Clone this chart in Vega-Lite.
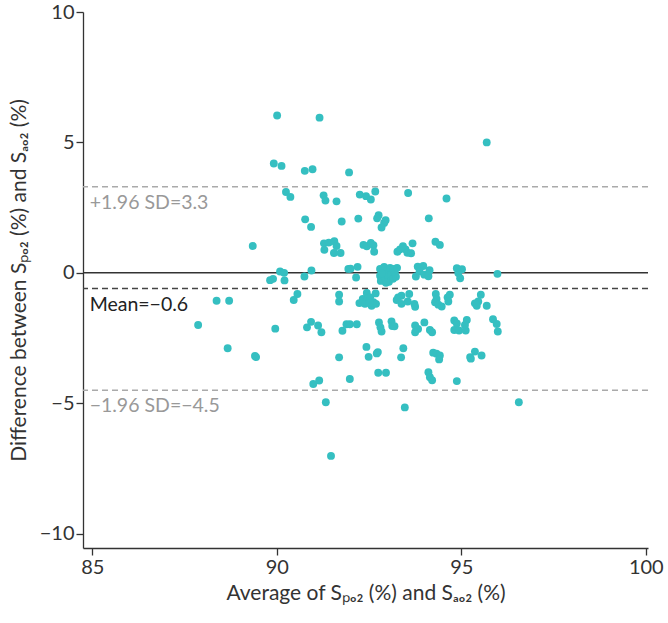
{
"$schema":"https://vega.github.io/schema/vega-lite/v6.json",
"width":565,"height":536,
"autosize":{"type":"none"},
"padding":{"left":83,"top":12,"right":20,"bottom":75},
"config":{"view":{"stroke":null},"font":"Lato","axis":{"grid":false,"domainColor":"#333","tickColor":"#333","labelColor":"#333","titleColor":"#333","labelFontSize":20,"titleFontSize":21,"titleFontWeight":"normal","tickSize":7,"domainWidth":1.3,"tickWidth":1.3,"labelFont":"Lato","titleFont":"Lato"}},
"layer":[
{"data":{"values":[{"diff":3.3},{"diff":-4.5}]},"mark":{"type":"rule","color":"#aaaaaa","strokeWidth":1.5,"strokeDash":[6,4]},
 "encoding":{"y":{"field":"diff","type":"quantitative","scale":{"domain":[-10.55,10],"nice":false,"zero":false},"axis":{"values":[-10,-5,0,5,10],"titlePadding":10},"title":"Difference between Sₚₒ₂ (%) and Sₐₒ₂ (%)"}}},
{"data":{"values":[{"diff":-0.6}]},"mark":{"type":"rule","color":"#444444","strokeWidth":1.5,"strokeDash":[6,4]},
 "encoding":{"y":{"field":"diff","type":"quantitative","title":"Difference between Sₚₒ₂ (%) and Sₐₒ₂ (%)"}}},
{"data":{"values":[{"diff":0}]},"mark":{"type":"rule","color":"#333333","strokeWidth":1.5},
 "encoding":{"y":{"field":"diff","type":"quantitative","title":"Difference between Sₚₒ₂ (%) and Sₐₒ₂ (%)"}}},
{"data":{"values":[{"avg":84.93,"diff":3.3,"label":"+1.96 SD=3.3"},{"avg":84.93,"diff":-4.5,"label":"−1.96 SD=−4.5"}]},
 "mark":{"type":"text","align":"left","baseline":"top","dy":7,"fontSize":19.5,"color":"#999999"},
 "encoding":{"x":{"field":"avg","type":"quantitative","title":"Average of Sₚₒ₂ (%) and Sₐₒ₂ (%)"},"y":{"field":"diff","type":"quantitative","title":"Difference between Sₚₒ₂ (%) and Sₐₒ₂ (%)"},"text":{"field":"label"}}},
{"data":{"values":[{"avg":84.93,"diff":-0.6,"label":"Mean=−0.6"}]},
 "mark":{"type":"text","align":"left","baseline":"top","dy":8,"fontSize":19.5,"color":"#222222"},
 "encoding":{"x":{"field":"avg","type":"quantitative","title":"Average of Sₚₒ₂ (%) and Sₐₒ₂ (%)"},"y":{"field":"diff","type":"quantitative","title":"Difference between Sₚₒ₂ (%) and Sₐₒ₂ (%)"},"text":{"field":"label"}}},
{"data":{"values":[
{"avg":90.01,"diff":6.03},{"avg":91.16,"diff":5.95},{"avg":89.92,"diff":4.19},{"avg":90.13,"diff":4.10},{"avg":90.76,"diff":3.91},{"avg":90.97,"diff":3.97},{"avg":91.96,"diff":3.85},{"avg":95.69,"diff":5.00},{"avg":90.25,"diff":3.10},{"avg":90.37,"diff":2.91},{"avg":91.27,"diff":2.97},{"avg":91.32,"diff":2.77},{"avg":91.62,"diff":2.74},{"avg":92.25,"diff":3.00},{"avg":92.42,"diff":2.94},{"avg":92.55,"diff":2.81},{"avg":92.67,"diff":3.12},{"avg":93.56,"diff":3.06},{"avg":94.60,"diff":2.85},{"avg":90.77,"diff":2.05},{"avg":90.93,"diff":1.76},{"avg":91.76,"diff":1.97},{"avg":92.21,"diff":2.08},{"avg":92.76,"diff":2.21},{"avg":92.72,"diff":2.09},{"avg":92.95,"diff":2.02},{"avg":92.91,"diff":1.91},{"avg":92.84,"diff":1.74},{"avg":94.12,"diff":2.09},{"avg":89.35,"diff":1.03},{"avg":91.28,"diff":1.13},{"avg":91.41,"diff":1.16},{"avg":91.56,"diff":1.21},{"avg":91.62,"diff":1.03},{"avg":91.29,"diff":0.88},{"avg":91.55,"diff":0.76},{"avg":91.73,"diff":0.76},{"avg":92.35,"diff":1.07},{"avg":92.44,"diff":1.02},{"avg":92.55,"diff":1.15},{"avg":92.62,"diff":1.06},{"avg":92.64,"diff":0.81},{"avg":93.27,"diff":0.81},{"avg":93.34,"diff":0.90},{"avg":93.42,"diff":1.02},{"avg":93.49,"diff":0.90},{"avg":93.54,"diff":0.77},{"avg":93.64,"diff":0.75},{"avg":93.68,"diff":1.13},{"avg":94.30,"diff":1.19},{"avg":94.42,"diff":1.07},
{"avg":91.94,"diff":0.15},{"avg":92.00,"diff":0.16},{"avg":92.19,"diff":0.23},{"avg":90.94,"diff":0.09},{"avg":90.75,"diff":-0.14},{"avg":92.15,"diff":-0.18},{"avg":90.09,"diff":0.05},{"avg":90.20,"diff":0.00},{"avg":89.82,"diff":-0.28},{"avg":89.90,"diff":-0.23},{"avg":90.21,"diff":-0.29},{"avg":93.82,"diff":0.24},{"avg":93.97,"diff":0.26},{"avg":93.77,"diff":-0.14},{"avg":93.87,"diff":0.05},{"avg":94.00,"diff":-0.07},{"avg":94.11,"diff":-0.13},{"avg":94.14,"diff":0.10},{"avg":94.88,"diff":0.18},{"avg":95.02,"diff":0.14},{"avg":94.92,"diff":-0.01},{"avg":94.97,"diff":-0.21},{"avg":95.98,"diff":-0.04},
{"avg":92.80,"diff":0.15},{"avg":92.80,"diff":-0.11},{"avg":92.82,"diff":-0.31},{"avg":92.91,"diff":0.23},{"avg":92.91,"diff":0.00},{"avg":92.93,"diff":-0.23},{"avg":92.99,"diff":0.08},{"avg":93.01,"diff":-0.11},{"avg":93.04,"diff":-0.34},{"avg":93.07,"diff":0.19},{"avg":93.10,"diff":-0.04},{"avg":93.15,"diff":0.15},{"avg":93.15,"diff":-0.23},{"avg":93.20,"diff":0.01},{"avg":93.23,"diff":-0.15},{"avg":93.26,"diff":0.19},{"avg":92.96,"diff":-0.38},{"avg":92.85,"diff":-0.02},
{"avg":90.56,"diff":-0.81},{"avg":90.46,"diff":-1.04},{"avg":88.37,"diff":-1.07},{"avg":88.71,"diff":-1.07},{"avg":87.87,"diff":-2.00},{"avg":88.67,"diff":-2.89},{"avg":89.41,"diff":-3.19},{"avg":89.44,"diff":-3.23},{"avg":89.96,"diff":-2.14},{"avg":91.69,"diff":-0.84},{"avg":91.69,"diff":-1.10},{"avg":90.82,"diff":-2.09},{"avg":90.93,"diff":-1.88},{"avg":91.12,"diff":-2.02},{"avg":91.21,"diff":-2.28},{"avg":91.78,"diff":-2.22},{"avg":91.89,"diff":-1.97},{"avg":91.98,"diff":-1.97},{"avg":92.17,"diff":-1.97},{"avg":91.69,"diff":-3.24},{"avg":91.98,"diff":-4.07},{"avg":90.99,"diff":-4.26},{"avg":91.15,"diff":-4.13},{"avg":91.33,"diff":-4.96},{"avg":91.47,"diff":-7.02},
{"avg":92.24,"diff":-1.16},{"avg":92.33,"diff":-1.00},{"avg":92.44,"diff":-0.77},{"avg":92.46,"diff":-1.04},{"avg":92.53,"diff":-0.94},{"avg":92.57,"diff":-1.26},{"avg":92.62,"diff":-1.13},{"avg":92.68,"diff":-0.79},{"avg":92.69,"diff":-1.19},{"avg":92.39,"diff":-1.19},{"avg":92.51,"diff":-1.15},{"avg":92.77,"diff":-1.90},{"avg":92.81,"diff":-2.09},{"avg":92.84,"diff":-2.25},{"avg":93.11,"diff":-1.86},{"avg":93.13,"diff":-2.04},{"avg":93.19,"diff":-2.05},{"avg":92.43,"diff":-2.84},{"avg":92.49,"diff":-3.22},{"avg":92.74,"diff":-3.04},{"avg":92.71,"diff":-3.09},{"avg":93.37,"diff":-3.24},{"avg":93.43,"diff":-2.89},{"avg":92.75,"diff":-3.83},{"avg":92.96,"diff":-3.83},{"avg":93.47,"diff":-5.16},
{"avg":93.29,"diff":-0.94},{"avg":93.38,"diff":-0.88},{"avg":93.25,"diff":-1.04},{"avg":93.38,"diff":-1.19},{"avg":93.55,"diff":-1.10},{"avg":93.59,"diff":-0.81},{"avg":93.73,"diff":-1.19},{"avg":93.75,"diff":-1.30},{"avg":94.31,"diff":-0.81},{"avg":94.33,"diff":-1.00},{"avg":94.29,"diff":-1.13},{"avg":94.38,"diff":-1.22},{"avg":94.47,"diff":-1.29},{"avg":94.63,"diff":-0.94},{"avg":94.69,"diff":-0.84},{"avg":94.65,"diff":-1.10},{"avg":95.53,"diff":-0.84},{"avg":95.46,"diff":-1.10},{"avg":95.37,"diff":-1.17},{"avg":95.42,"diff":-1.26},{"avg":95.69,"diff":-1.26},
{"avg":93.75,"diff":-2.02},{"avg":93.83,"diff":-2.15},{"avg":93.75,"diff":-2.28},{"avg":94.00,"diff":-1.90},{"avg":94.15,"diff":-2.19},{"avg":94.21,"diff":-2.28},{"avg":94.81,"diff":-1.83},{"avg":94.88,"diff":-1.94},{"avg":94.81,"diff":-2.19},{"avg":94.94,"diff":-2.21},{"avg":95.12,"diff":-2.21},{"avg":95.15,"diff":-1.81},{"avg":95.10,"diff":-2.00},{"avg":95.86,"diff":-1.78},{"avg":95.96,"diff":-1.96},{"avg":95.99,"diff":-2.25},{"avg":94.24,"diff":-3.06},{"avg":94.33,"diff":-3.10},{"avg":94.42,"diff":-3.17},{"avg":94.40,"diff":-3.32},{"avg":95.37,"diff":-3.02},{"avg":95.24,"diff":-3.23},{"avg":95.26,"diff":-3.29},{"avg":95.55,"diff":-3.17},{"avg":94.11,"diff":-3.81},{"avg":94.15,"diff":-4.00},{"avg":94.21,"diff":-4.12},{"avg":94.88,"diff":-4.15},{"avg":96.56,"diff":-4.96}
]},
 "mark":{"type":"circle","size":62,"color":"#35bfc1","opacity":1},
 "encoding":{"x":{"field":"avg","type":"quantitative","scale":{"domain":[84.75,100.06],"nice":false,"zero":false},"axis":{"values":[85,90,95,100],"titlePadding":5},"title":"Average of Sₚₒ₂ (%) and Sₐₒ₂ (%)"},"y":{"field":"diff","type":"quantitative","title":"Difference between Sₚₒ₂ (%) and Sₐₒ₂ (%)"}}}
]
}
